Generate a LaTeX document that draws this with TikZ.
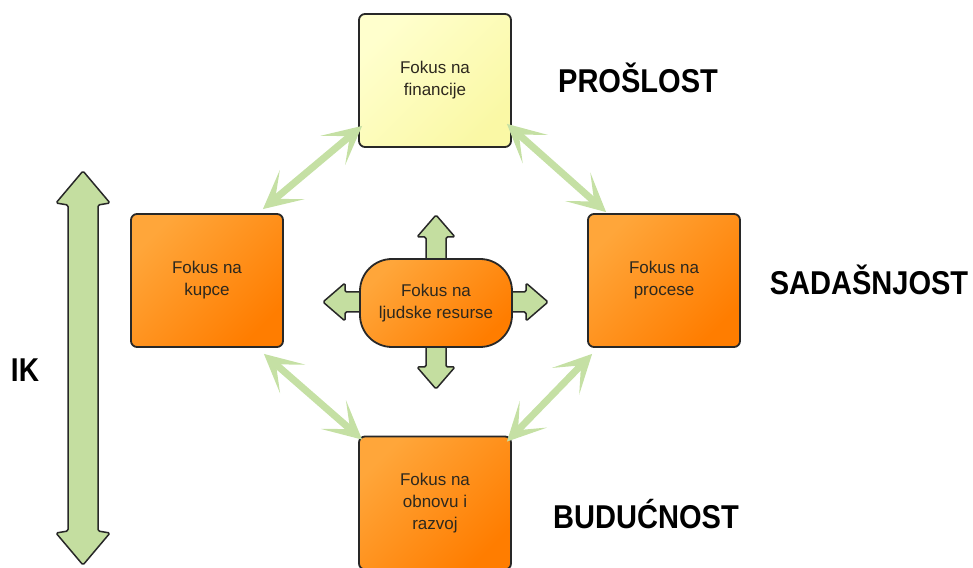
\documentclass[tikz,border=0pt]{standalone}
\usepackage{fontspec}
\setmainfont{Liberation Sans}
\usetikzlibrary{arrows.meta,calc}
\definecolor{lgreen}{RGB}{197,224,164}
\definecolor{dgreen}{RGB}{196,222,160}
\definecolor{edge}{RGB}{40,40,40}
\definecolor{orA}{RGB}{255,166,58}
\definecolor{orB}{RGB}{255,125,0}
\definecolor{yeA}{RGB}{255,255,205}
\definecolor{yeB}{RGB}{250,248,165}
\definecolor{txt}{RGB}{45,40,30}
\begin{document}
\begin{tikzpicture}[x=1pt,y=1pt,
 box/.style={draw=edge, line width=1.8pt, rounded corners=6pt, minimum width=152pt, minimum height=133pt, align=center, text=txt, font=\fontsize{17}{22}\selectfont, inner sep=0pt, top color=orA, bottom color=orB, shading angle=45},
 ybox/.style={box, top color=yeA, bottom color=yeB, shading angle=45},
 era/.style={font=\bfseries\fontsize{33}{33}\selectfont, inner sep=0pt, anchor=base},
 link/.style={draw=lgreen, line width=7pt, {Stealth[length=38pt,width=38pt,inset=22pt]}-{Stealth[length=38pt,width=38pt,inset=22pt]}},
 fat/.style={draw=edge, line width=1.5pt, fill=dgreen, rounded corners=1.5pt, line join=round}]
\useasboundingbox (0,0) rectangle (973,567);
% boxes
\node[ybox] (T) at (435,486.5) {Fokus na\\financije};
\node[box] (L) at (207,286.5) {Fokus na\\kupce};
\node[box] (R) at (664,286.5) {Fokus na\\procese};
\node[box] (B) at (435,64) {Fokus na\\obnovu i\\razvoj};
% cross arrows behind centre node
\draw[fat] (436,352) -- (455,330) -- (446,330) -- (446,200) -- (455,200) -- (436,178) -- (417,200) -- (426,200) -- (426,330) -- (417,330) -- cycle;
\draw[fat] (323,265) -- (345,284) -- (345,275) -- (526,275) -- (526,284) -- (548,265) -- (526,246) -- (526,255) -- (345,255) -- (345,246) -- cycle;
\node[box, minimum height=88pt, rounded corners=32pt] (C) at (436,264) {Fokus na\\ljudske resurse};
% left big arrow
\draw[fat] (83,396) -- (110,364) -- (98,362) -- (98,36) -- (110,34) -- (83,2) -- (56,34) -- (68,36) -- (68,362) -- (56,364) -- cycle;
% labels
\node[era] (p) at (638,474) {\scalebox{0.88}[1]{PROŠLOST}};
\node[era] (s) at (869,272) {\scalebox{0.88}[1]{SADAŠNJOST}};
\node[era] (b) at (646,39) {\scalebox{0.88}[1]{BUDUĆNOST}};
\node[era] (ik) at (25,185) {\scalebox{0.85}[1]{IK}};
% links
\draw[link] ($(L.north east)+(-21,4)$) -- ($(T.south west)+(4,22)$);
\draw[link] ($(T.south east)+(-5,24)$) -- ($(R.north west)+(19,1)$);
\draw[link] ($(B.north east)+(-5,-6)$) -- ($(R.south west)+(5,-6)$);
\draw[link] ($(L.south east)+(-20,-6)$) -- ($(B.north west)+(4,-4)$);
\end{tikzpicture}
\end{document}
